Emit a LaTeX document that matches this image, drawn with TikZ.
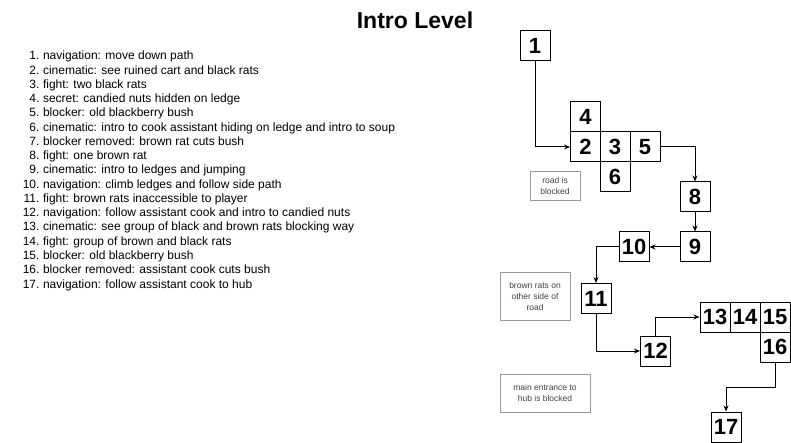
\documentclass[tikz,border=0pt]{standalone}
\usepackage{fontspec}
\setmainfont{Liberation Sans}
\usetikzlibrary{arrows.meta}
\begin{document}
\begin{tikzpicture}[x=1pt,y=-1pt,line width=1pt,inner sep=0pt,
    room/.style={draw,minimum size=30pt,font=\fontsize{22}{22}\selectfont\bfseries},
    note/.style={draw=black!40,line width=0.7pt,text=black!75,align=center,
      font=\fontsize{8.5}{11}\selectfont},
    item/.style={font=\fontsize{12}{14}\selectfont},
    link/.style={-{Stealth[length=6pt,width=5pt]}}]
  \path[use as bounding box] (0,0) rectangle (791,443);
  \node[font=\fontsize{23}{23}\selectfont\bfseries] (title) at (415,20) {Intro Level};
  % level beats
  \foreach \n/\t [count=\i from 0] in {
      1/navigation: move down path,
      2/cinematic: see ruined cart and black rats,
      3/fight: two black rats,
      4/secret: candied nuts hidden on ledge,
      5/blocker: old blackberry bush,
      6/cinematic: intro to cook assistant hiding on ledge and intro to soup,
      7/blocker removed: brown rat cuts bush,
      8/fight: one brown rat,
      9/cinematic: intro to ledges and jumping,
      10/navigation: climb ledges and follow side path,
      11/fight: brown rats inaccessible to player,
      12/navigation: follow assistant cook and intro to candied nuts,
      13/cinematic: see group of black and brown rats blocking way,
      14/fight: group of brown and black rats,
      15/blocker: old blackberry bush,
      16/blocker removed: assistant cook cuts bush,
      17/navigation: follow assistant cook to hub} {
    \node[item,anchor=base east] (num\n) at (40,60+14.25*\i) {\n.};
    \node[item,anchor=base west] (beat\n) at (42.5,60+14.25*\i) {\t};
  }
  % rooms
  \node[room] (r1) at (535,45.5) {1};
  \node[room] (r4) at (585.5,117) {4};
  \node[room] (r2) at (585.5,147) {2};
  \node[room] (r3) at (615,147) {3};
  \node[room] (r5) at (645,147) {5};
  \node[room] (r6) at (615,177) {6};
  \node[room] (r8) at (695,197) {8};
  \node[room] (r9) at (695,247) {9};
  \node[room] (r10) at (634,247) {10};
  \node[room] (r11) at (596,298.5) {11};
  \node[room] (r12) at (655.5,351) {12};
  \node[room] (r13) at (715,317) {13};
  \node[room] (r14) at (745,317) {14};
  \node[room] (r15) at (775,317) {15};
  \node[room] (r16) at (775,347) {16};
  \node[room] (r17) at (726,427) {17};
  % notes
  \node[note,minimum width=50pt,minimum height=29pt] (roadnote) at (555,185.5) {road is\\blocked};
  \node[note,minimum width=70pt,minimum height=48pt] (ratnote) at (535,296) {brown rats on\\other side of\\road};
  \node[note,minimum width=90pt,minimum height=38pt] (hubnote) at (545,393) {main entrance to\\hub is blocked};
  % path
  \draw[link] (r1.south) |- (r2.west);
  \draw[link] (r5.east) -| (r8.north);
  \draw[link] (r8) -- (r9);
  \draw[link] (r9) -- (r10);
  \draw[link] (r10.west) -| (r11.north);
  \draw[link] (r11.south) |- (r12.west);
  \draw[link] (r12.north) |- (r13.west);
  \draw[link] (r16.south) -- ++(0,25) -| (r17.north);
\end{tikzpicture}
\end{document}
